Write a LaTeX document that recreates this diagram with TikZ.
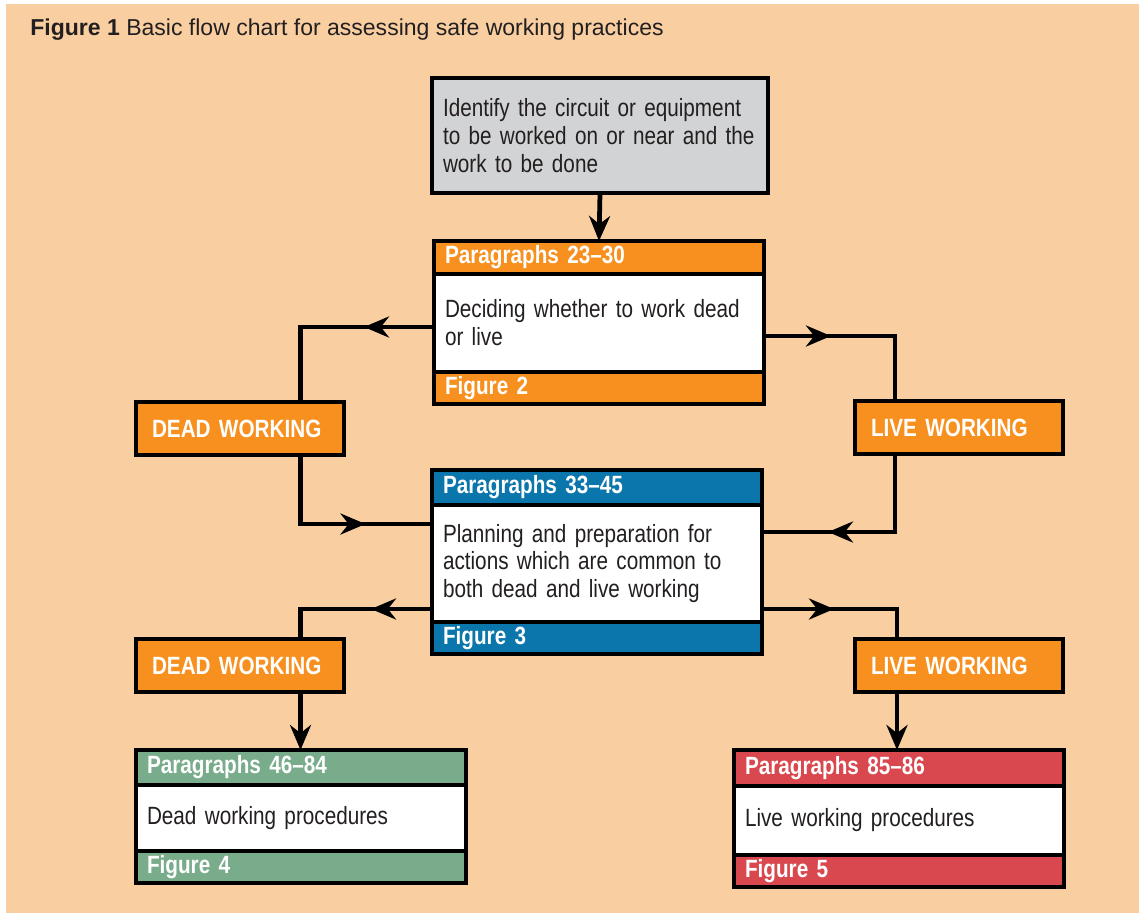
\documentclass[tikz,border=0pt]{standalone}
\usepackage{fontspec}
\setmainfont[FakeStretch=0.83]{Liberation Sans}
\newfontfamily\titlefont{Liberation Sans}
\usepackage{tikz}
\usetikzlibrary{positioning,arrows.meta,decorations.markings}
\usepackage{xcolor}
\definecolor{peach}{HTML}{F9CFA2}
\definecolor{safeorange}{HTML}{F7901E}
\definecolor{paneblue}{HTML}{0A76AB}
\definecolor{panegreen}{HTML}{78AC8B}
\definecolor{panered}{HTML}{D9474F}
\definecolor{panegray}{HTML}{D1D3D4}
\definecolor{inkgray}{HTML}{231F20}
\newcommand{\chartfont}{\fontsize{14.2}{15.9}\selectfont}
\tikzstyle{secbox} = [draw=black, line width=2.5pt, rectangle, outer sep=0pt, inner ysep=0pt, align=left]
\tikzstyle{band} = [secbox, text width=6.16cm, inner xsep=0.22cm, text=white, font=\chartfont\bfseries]
\tikzstyle{bodybox} = [secbox, fill=white, text width=6.16cm, inner xsep=0.22cm, text=inkgray, font=\chartfont]
\tikzstyle{workbox} = [secbox, fill=safeorange, text width=3.52cm, inner xsep=0.32cm, minimum height=1.06cm, text=white, font=\chartfont\bfseries]
\tikzstyle{conn} = [line width=2.7pt, black]
\tikzset{midarrow/.style={postaction={decorate}, decoration={markings, mark=at position #1 with {\arrow{Stealth[length=0.5cm,width=0.42cm]}}}}}

\begin{document}
\begin{tikzpicture}
\useasboundingbox (0,0) rectangle (22.78,-18.26);
\fill[peach] (0.12,-0.08) rectangle (22.78,-18.26);

\node[anchor=west, inner sep=0pt, text=inkgray, font=\titlefont\fontsize{13.1}{15}\selectfont] (title) at (0.6,-0.6)
    {\textbf{Figure 1} Basic flow chart for assessing safe working practices};

% start
\node[secbox, fill=panegray, anchor=north west, text width=6.28cm, inner xsep=0.22cm, minimum height=2.3cm,
      text=inkgray, font=\chartfont] (ident) at (8.64,-1.56)
    {Identify the circuit or equipment\\to be worked on or near and the\\work to be done};

% paragraphs 23-30
\node[band, fill=safeorange, anchor=north west, minimum height=0.66cm] (p23hd) at (8.68,-4.82) {Paragraphs 23--30};
\node[bodybox, minimum height=1.96cm, below=0pt of p23hd] (p23tx) {Deciding whether to work dead\\or live};
\node[band, fill=safeorange, minimum height=0.64cm, below=0pt of p23tx] (p23fg) {Figure 2};

% first choice
\node[workbox, anchor=north west] (dead1) at (2.72,-8.04) {DEAD WORKING};
\node[workbox, anchor=north west] (live1) at (17.1,-8.02) {LIVE WORKING};

% paragraphs 33-45
\node[band, fill=paneblue, anchor=north west, minimum height=0.70cm] (p33hd) at (8.64,-9.40) {Paragraphs 33--45};
\node[bodybox, minimum height=2.34cm, below=0pt of p33hd] (p33tx)
    {Planning and preparation for\\actions which are common to\\both dead and live working};
\node[band, fill=paneblue, minimum height=0.64cm, below=0pt of p33tx] (p33fg) {Figure 3};

% second choice
\node[workbox, anchor=north west] (dead2) at (2.72,-12.78) {DEAD WORKING};
\node[workbox, anchor=north west] (live2) at (17.1,-12.78) {LIVE WORKING};

% procedures
\node[band, fill=panegreen, anchor=north west, minimum height=0.70cm] (p46hd) at (2.72,-15.0) {Paragraphs 46--84};
\node[bodybox, minimum height=1.32cm, below=0pt of p46hd] (p46tx) {Dead working procedures};
\node[band, fill=panegreen, minimum height=0.64cm, below=0pt of p46tx] (p46fg) {Figure 4};

\node[band, fill=panered, anchor=north west, minimum height=0.72cm] (p85hd) at (14.68,-15.0) {Paragraphs 85--86};
\node[bodybox, minimum height=1.38cm, below=0pt of p85hd] (p85tx) {Live working procedures};
\node[band, fill=panered, minimum height=0.64cm, below=0pt of p85tx] (p85fg) {Figure 5};

% taps on the working boxes
\coordinate (dtap1) at ([xshift=1.21cm]dead1.north);
\coordinate (dout1) at ([xshift=1.21cm]dead1.south);
\coordinate (ltap1) at ([xshift=-1.28cm]live1.north);
\coordinate (lout1) at ([xshift=-1.28cm]live1.south);
\coordinate (dtap2) at ([xshift=1.21cm]dead2.north);
\coordinate (dout2) at ([xshift=1.21cm]dead2.south);
\coordinate (ltap2) at ([xshift=-1.24cm]live2.north);
\coordinate (lout2) at ([xshift=-1.24cm]live2.south);

\draw[conn, -{Stealth[length=0.5cm,width=0.42cm]}] (ident.south) -- (p23hd.north);
\draw[conn, midarrow=1.4cm] ([yshift=-0.08cm]p23tx.west) -| (dtap1);
\draw[conn, midarrow=1.34cm] ([yshift=-0.26cm]p23tx.east) -| (ltap1);
\draw[conn, midarrow=2.68cm] (dout1) |- ([yshift=0.79cm]p33tx.west);
\draw[conn, midarrow=2.9cm] (lout1) |- ([yshift=0.63cm]p33tx.east);
\draw[conn, midarrow=1.22cm] ([yshift=-0.91cm]p33tx.west) -| (dtap2);
\draw[conn, midarrow=1.44cm] ([yshift=-0.91cm]p33tx.east) -| (ltap2);
\draw[conn, -{Stealth[length=0.5cm,width=0.42cm]}] (dout2) -- (dout2 |- p46hd.north);
\draw[conn, -{Stealth[length=0.5cm,width=0.42cm]}] (lout2) -- (lout2 |- p85hd.north);
\end{tikzpicture}
\end{document}
